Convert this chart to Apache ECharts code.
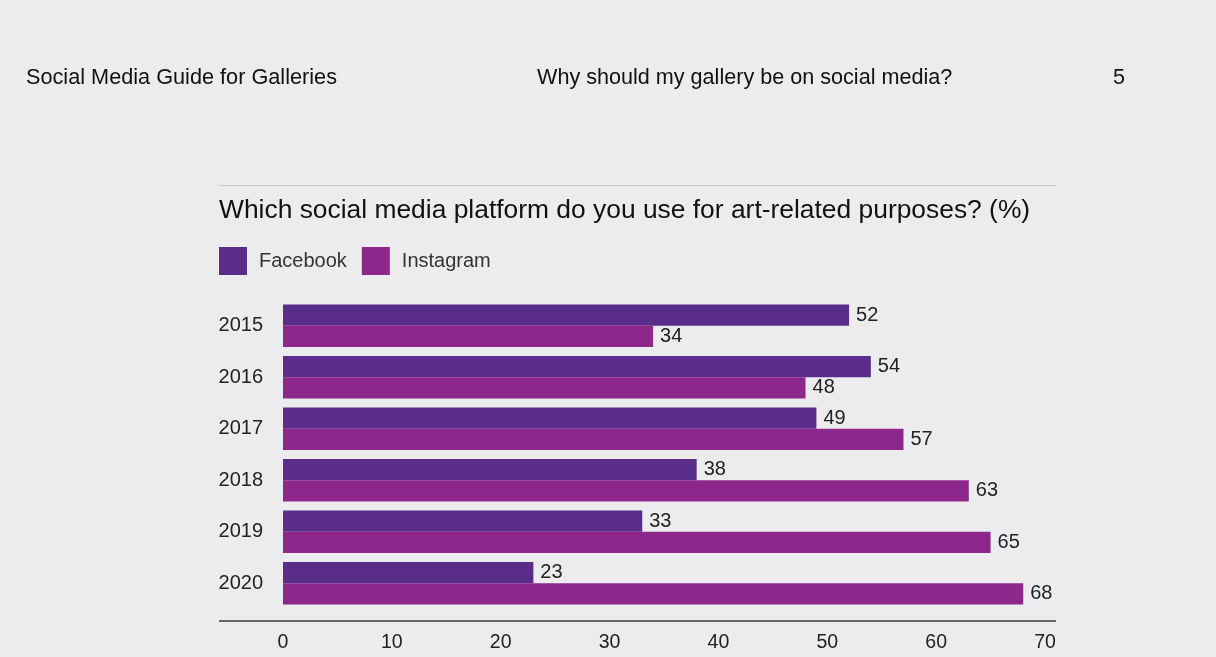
<!DOCTYPE html>
<html><head><meta charset="utf-8">
<script src="https://cdn.jsdelivr.net/npm/echarts@6/dist/echarts.min.js"></script>
<style>html,body{margin:0;padding:0;background:#ececee;}#c{width:1216px;height:657px;}</style>
</head><body><div id="c"></div>
<script>
const years = ['2015','2016','2017','2018','2019','2020'];
const facebook = [52,54,49,38,33,23];
const instagram = [34,48,57,63,65,68];
const xTicks = [0,10,20,30,40,50,60,70];
const FONT = '"Liberation Sans", Arial, sans-serif';
const chart = echarts.init(document.getElementById('c'));
chart.setOption({
  backgroundColor: '#ececee',
  textStyle: {fontFamily: FONT},
  title: [
    {text: 'Social Media Guide for Galleries', left: 26, top: 67, padding: 0, textStyle: {fontSize: 21.7, fontWeight: 'normal', color: '#111', fontFamily: FONT}},
    {text: 'Why should my gallery be on social media?', left: 537, top: 67, padding: 0, textStyle: {fontSize: 21.6, fontWeight: 'normal', color: '#111', fontFamily: FONT}},
    {text: '5', left: 1113, top: 67, padding: 0, textStyle: {fontSize: 21.6, fontWeight: 'normal', color: '#111', fontFamily: FONT}},
    {text: 'Which social media platform do you use for art-related purposes? (%)', left: 219, top: 198, padding: 0, textStyle: {fontSize: 26.4, fontWeight: 'normal', color: '#111', fontFamily: FONT}}
  ],
  legend: {
    left: 219, top: 247, padding: 0, itemWidth: 28, itemHeight: 28, itemGap: 15, icon: 'rect',
    data: ['Facebook','Instagram'],
    textStyle: {fontSize: 20, color: '#333', fontFamily: FONT, padding: [0,0,0,7]}
  },
  graphic: [
    {type: 'line', shape: {x1: 219, y1: 185.5, x2: 1056, y2: 185.5}, style: {stroke: '#c8c8cc', lineWidth: 1}},
    {type: 'line', shape: {x1: 219, y1: 621, x2: 1056, y2: 621}, style: {stroke: '#666', lineWidth: 2}}
  ],
  grid: {left: 283, right: 171, top: 300, bottom: 48, containLabel: false},
  xAxis: {
    type: 'value', min: 0, max: 70, interval: 10,
    axisLine: {show: false}, axisTick: {show: false}, splitLine: {show: false},
    axisLabel: {fontSize: 19.5, color: '#222', margin: 24, fontFamily: FONT,
      formatter: v => xTicks.includes(v) ? String(v) : ''}
  },
  yAxis: {
    type: 'category', data: years, inverse: true,
    axisLine: {show: false}, axisTick: {show: false},
    axisLabel: {fontSize: 20, color: '#222', margin: 20, fontFamily: FONT}
  },
  series: [
    {name: 'Facebook', type: 'bar', data: facebook, barGap: '0%', barCategoryGap: '17%',
      itemStyle: {color: '#5b2d8a'},
      label: {show: true, position: 'right', distance: 7, fontSize: 20, color: '#222', fontFamily: FONT}},
    {name: 'Instagram', type: 'bar', data: instagram, barGap: '0%', barCategoryGap: '17%',
      itemStyle: {color: '#8e278b'},
      label: {show: true, position: 'right', distance: 7, fontSize: 20, color: '#222', fontFamily: FONT}}
  ],
  animation: false
});
</script></body></html>
